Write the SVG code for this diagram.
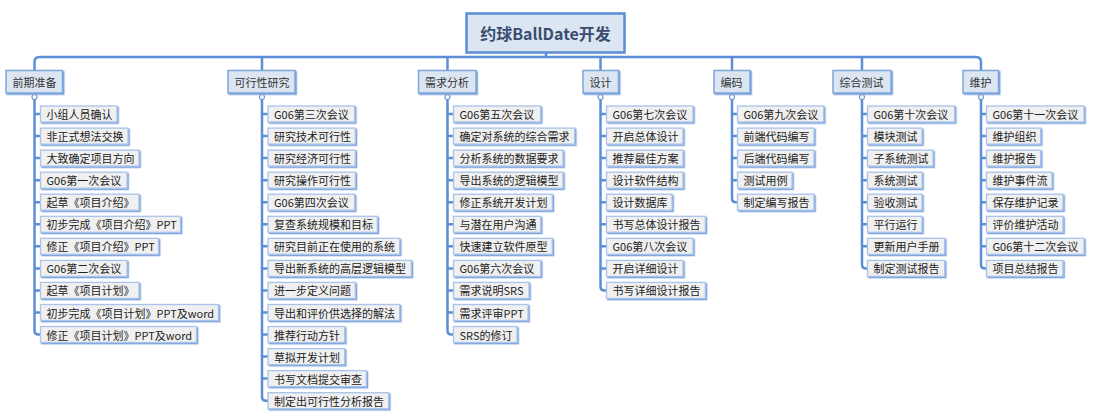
<svg xmlns="http://www.w3.org/2000/svg" width="1100" height="418" viewBox="0 0 1100 418">
<defs>
<filter id="sh" x="-5%" y="-20%" width="115%" height="150%">
<feDropShadow dx="1.3" dy="1.3" stdDeviation="0" flood-color="#7fa5dc" flood-opacity="1"/>
</filter>
<style>
.ln{fill:none;stroke:#5b8ed7;stroke-width:2.5;stroke-linecap:butt}
.dot{fill:#ffffff;stroke:#6f9ad9;stroke-width:1.2}
.c{fill:#f0f0f0;stroke:#a9c4ea;stroke-width:1.3;filter:url(#sh)}
.cat{fill:#dce6f2;stroke:#7ea6dc;stroke-width:1.5;filter:url(#sh)}
.main{fill:#dce6f2;stroke:#5b8dd6;stroke-width:2.5}
.t{font-family:"Noto Sans CJK SC","Noto Sans",sans-serif;font-size:11px;fill:#222;dominant-baseline:central}
.tc{font-family:"Noto Sans CJK SC","Noto Sans",sans-serif;font-size:11px;fill:#333;dominant-baseline:central}
.tm{font-family:"Noto Sans CJK SC","Noto Sans",sans-serif;font-size:16px;font-weight:bold;fill:#3a4d70;dominant-baseline:central;text-anchor:middle}
</style>
</defs>
<rect width="1100" height="418" fill="#ffffff"/>

<g id="connectors">
<path class="ln" d="M546,53 V57"/>
<path class="ln" d="M34.5,70 V62 Q34.5,57 39.5,57 H976 Q981,57 981,62 V70"/>
<path class="ln" d="M262,57 V70 M447.5,57 V70 M600.5,57 V70 M732,57 V70 M862,57 V70"/>
<!-- A -->
<path class="ln" d="M34.5,99.5 V330.5 Q34.5,334.5 38.5,334.5 H40.5"/>
<path class="ln" d="M34.5,114 H40.5 M34.5,136.1 H40.5 M34.5,158.1 H40.5 M34.5,180.2 H40.5 M34.5,202.2 H40.5 M34.5,224.3 H40.5 M34.5,246.3 H40.5 M34.5,268.4 H40.5 M34.5,290.4 H40.5 M34.5,312.5 H40.5"/>
<circle class="dot" cx="34.5" cy="97" r="2.5"/>
<!-- B -->
<path class="ln" d="M262,99.5 V396.7 Q262,400.7 266,400.7 H268"/>
<path class="ln" d="M262,114 H268 M262,136.1 H268 M262,158.1 H268 M262,180.2 H268 M262,202.2 H268 M262,224.3 H268 M262,246.3 H268 M262,268.4 H268 M262,290.4 H268 M262,312.5 H268 M262,334.5 H268 M262,356.6 H268 M262,378.6 H268"/>
<circle class="dot" cx="262" cy="97" r="2.5"/>
<!-- C -->
<path class="ln" d="M447.5,99.5 V330.5 Q447.5,334.5 451.5,334.5 H453.5"/>
<path class="ln" d="M447.5,114 H453.5 M447.5,136.1 H453.5 M447.5,158.1 H453.5 M447.5,180.2 H453.5 M447.5,202.2 H453.5 M447.5,224.3 H453.5 M447.5,246.3 H453.5 M447.5,268.4 H453.5 M447.5,290.4 H453.5 M447.5,312.5 H453.5"/>
<circle class="dot" cx="447.5" cy="97" r="2.5"/>
<!-- D -->
<path class="ln" d="M600.5,99.5 V286.4 Q600.5,290.4 604.5,290.4 H606.5"/>
<path class="ln" d="M600.5,114 H606.5 M600.5,136.1 H606.5 M600.5,158.1 H606.5 M600.5,180.2 H606.5 M600.5,202.2 H606.5 M600.5,224.3 H606.5 M600.5,246.3 H606.5 M600.5,268.4 H606.5"/>
<circle class="dot" cx="600.5" cy="97" r="2.5"/>
<!-- E -->
<path class="ln" d="M732,99.5 V198.2 Q732,202.2 736,202.2 H737.5"/>
<path class="ln" d="M732,114 H737.5 M732,136.1 H737.5 M732,158.1 H737.5 M732,180.2 H737.5"/>
<circle class="dot" cx="732" cy="97" r="2.5"/>
<!-- F -->
<path class="ln" d="M862,99.5 V264.4 Q862,268.4 866,268.4 H867.5"/>
<path class="ln" d="M862,114 H867.5 M862,136.1 H867.5 M862,158.1 H867.5 M862,180.2 H867.5 M862,202.2 H867.5 M862,224.3 H867.5 M862,246.3 H867.5"/>
<circle class="dot" cx="862" cy="97" r="2.5"/>
<!-- G -->
<path class="ln" d="M981,99.5 V264.4 Q981,268.4 985,268.4 H986.5"/>
<path class="ln" d="M981,114 H986.5 M981,136.1 H986.5 M981,158.1 H986.5 M981,180.2 H986.5 M981,202.2 H986.5 M981,224.3 H986.5 M981,246.3 H986.5"/>
<circle class="dot" cx="981" cy="97" r="2.5"/>
</g>

<g id="root"><rect class="main" x="466.5" y="13.5" width="158" height="39"/><text class="tm" x="545.5" y="33">约球BallDate开发</text></g>

<g id="cat-qianqi"><rect class="cat" x="6" y="70.5" width="56.5" height="22.5"/><text class="tc" x="12.5" y="82">前期准备</text></g>
<g id="cat-kexing"><rect class="cat" x="228" y="70.5" width="67" height="22.5"/><text class="tc" x="234.5" y="82">可行性研究</text></g>
<g id="cat-xuqiu"><rect class="cat" x="418.5" y="70.5" width="57.5" height="22.5"/><text class="tc" x="425" y="82">需求分析</text></g>
<g id="cat-sheji"><rect class="cat" x="583" y="70.5" width="35.5" height="22.5"/><text class="tc" x="589.5" y="82">设计</text></g>
<g id="cat-bianma"><rect class="cat" x="714" y="70.5" width="36" height="22.5"/><text class="tc" x="720.5" y="82">编码</text></g>
<g id="cat-ceshi"><rect class="cat" x="833" y="70.5" width="58" height="22.5"/><text class="tc" x="839.5" y="82">综合测试</text></g>
<g id="cat-weihu"><rect class="cat" x="963" y="70.5" width="35.5" height="22.5"/><text class="tc" x="969.5" y="82">维护</text></g>

<!-- A children -->
<g id="a1"><rect class="c" x="40.5" y="106" width="76.5" height="16"/><text class="t" x="46.5" y="114">小组人员确认</text></g>
<g id="a2"><rect class="c" x="40.5" y="128.1" width="87.5" height="16"/><text class="t" x="46.5" y="136.1">非正式想法交换</text></g>
<g id="a3"><rect class="c" x="40.5" y="150.1" width="98.5" height="16"/><text class="t" x="46.5" y="158.1">大致确定项目方向</text></g>
<g id="a4"><rect class="c" x="40.5" y="172.2" width="86.5" height="16"/><text class="t" x="46.5" y="180.2">G06第一次会议</text></g>
<g id="a5"><rect class="c" x="40.5" y="194.2" width="98.5" height="16"/><text class="t" x="46.5" y="202.2">起草《项目介绍》</text></g>
<g id="a6"><rect class="c" x="40.5" y="216.3" width="140" height="16"/><text class="t" x="46.5" y="224.3">初步完成《项目介绍》PPT</text></g>
<g id="a7"><rect class="c" x="40.5" y="238.3" width="118" height="16"/><text class="t" x="46.5" y="246.3">修正《项目介绍》PPT</text></g>
<g id="a8"><rect class="c" x="40.5" y="260.4" width="86.5" height="16"/><text class="t" x="46.5" y="268.4">G06第二次会议</text></g>
<g id="a9"><rect class="c" x="40.5" y="282.4" width="98.5" height="16"/><text class="t" x="46.5" y="290.4">起草《项目计划》</text></g>
<g id="a10"><rect class="c" x="40.5" y="304.5" width="178" height="16"/><text class="t" x="46.5" y="312.5">初步完成《项目计划》PPT及word</text></g>
<g id="a11"><rect class="c" x="40.5" y="326.5" width="156" height="16"/><text class="t" x="46.5" y="334.5">修正《项目计划》PPT及word</text></g>

<!-- B children -->
<g id="b1"><rect class="c" x="268" y="106" width="86.7" height="16"/><text class="t" x="274" y="114">G06第三次会议</text></g>
<g id="b2"><rect class="c" x="268" y="128.1" width="87.3" height="16"/><text class="t" x="274" y="136.1">研究技术可行性</text></g>
<g id="b3"><rect class="c" x="268" y="150.1" width="87.3" height="16"/><text class="t" x="274" y="158.1">研究经济可行性</text></g>
<g id="b4"><rect class="c" x="268" y="172.2" width="87.3" height="16"/><text class="t" x="274" y="180.2">研究操作可行性</text></g>
<g id="b5"><rect class="c" x="268" y="194.2" width="86.7" height="16"/><text class="t" x="274" y="202.2">G06第四次会议</text></g>
<g id="b6"><rect class="c" x="268" y="216.3" width="109.3" height="16"/><text class="t" x="274" y="224.3">复查系统规模和目标</text></g>
<g id="b7"><rect class="c" x="268" y="238.3" width="131.7" height="16"/><text class="t" x="274" y="246.3">研究目前正在使用的系统</text></g>
<g id="b8"><rect class="c" x="268" y="260.4" width="143.3" height="16"/><text class="t" x="274" y="268.4">导出新系统的高层逻辑模型</text></g>
<g id="b9"><rect class="c" x="268" y="282.4" width="87.3" height="16"/><text class="t" x="274" y="290.4">进一步定义问题</text></g>
<g id="b10"><rect class="c" x="268" y="304.5" width="131.7" height="16"/><text class="t" x="274" y="312.5">导出和评价供选择的解法</text></g>
<g id="b11"><rect class="c" x="268" y="326.5" width="76.7" height="16"/><text class="t" x="274" y="334.5">推荐行动方针</text></g>
<g id="b12"><rect class="c" x="268" y="348.6" width="76.7" height="16"/><text class="t" x="274" y="356.6">草拟开发计划</text></g>
<g id="b13"><rect class="c" x="268" y="370.6" width="98.3" height="16"/><text class="t" x="274" y="378.6">书写文档提交审查</text></g>
<g id="b14"><rect class="c" x="268" y="392.7" width="120.7" height="16"/><text class="t" x="274" y="400.7">制定出可行性分析报告</text></g>

<!-- C children -->
<g id="c1"><rect class="c" x="453.5" y="106" width="87.2" height="16"/><text class="t" x="459.5" y="114">G06第五次会议</text></g>
<g id="c2"><rect class="c" x="453.5" y="128.1" width="121.2" height="16"/><text class="t" x="459.5" y="136.1">确定对系统的综合需求</text></g>
<g id="c3"><rect class="c" x="453.5" y="150.1" width="109.5" height="16"/><text class="t" x="459.5" y="158.1">分析系统的数据要求</text></g>
<g id="c4"><rect class="c" x="453.5" y="172.2" width="109.5" height="16"/><text class="t" x="459.5" y="180.2">导出系统的逻辑模型</text></g>
<g id="c5"><rect class="c" x="453.5" y="194.2" width="98.8" height="16"/><text class="t" x="459.5" y="202.2">修正系统开发计划</text></g>
<g id="c6"><rect class="c" x="453.5" y="216.3" width="87.2" height="16"/><text class="t" x="459.5" y="224.3">与潜在用户沟通</text></g>
<g id="c7"><rect class="c" x="453.5" y="238.3" width="98.8" height="16"/><text class="t" x="459.5" y="246.3">快速建立软件原型</text></g>
<g id="c8"><rect class="c" x="453.5" y="260.4" width="87.2" height="16"/><text class="t" x="459.5" y="268.4">G06第六次会议</text></g>
<g id="c9"><rect class="c" x="453.5" y="282.4" width="75.5" height="16"/><text class="t" x="459.5" y="290.4">需求说明SRS</text></g>
<g id="c10"><rect class="c" x="453.5" y="304.5" width="74.5" height="16"/><text class="t" x="459.5" y="312.5">需求评审PPT</text></g>
<g id="c11"><rect class="c" x="453.5" y="326.5" width="63.5" height="16"/><text class="t" x="459.5" y="334.5">SRS的修订</text></g>

<!-- D children -->
<g id="d1"><rect class="c" x="606.5" y="106" width="86.5" height="16"/><text class="t" x="612.5" y="114">G06第七次会议</text></g>
<g id="d2"><rect class="c" x="606.5" y="128.1" width="76.5" height="16"/><text class="t" x="612.5" y="136.1">开启总体设计</text></g>
<g id="d3"><rect class="c" x="606.5" y="150.1" width="76.5" height="16"/><text class="t" x="612.5" y="158.1">推荐最佳方案</text></g>
<g id="d4"><rect class="c" x="606.5" y="172.2" width="76.5" height="16"/><text class="t" x="612.5" y="180.2">设计软件结构</text></g>
<g id="d5"><rect class="c" x="606.5" y="194.2" width="65.5" height="16"/><text class="t" x="612.5" y="202.2">设计数据库</text></g>
<g id="d6"><rect class="c" x="606.5" y="216.3" width="98.8" height="16"/><text class="t" x="612.5" y="224.3">书写总体设计报告</text></g>
<g id="d7"><rect class="c" x="606.5" y="238.3" width="86.5" height="16"/><text class="t" x="612.5" y="246.3">G06第八次会议</text></g>
<g id="d8"><rect class="c" x="606.5" y="260.4" width="76.5" height="16"/><text class="t" x="612.5" y="268.4">开启详细设计</text></g>
<g id="d9"><rect class="c" x="606.5" y="282.4" width="98.8" height="16"/><text class="t" x="612.5" y="290.4">书写详细设计报告</text></g>

<!-- E children -->
<g id="e1"><rect class="c" x="737.5" y="106" width="86.2" height="16"/><text class="t" x="743.5" y="114">G06第九次会议</text></g>
<g id="e2"><rect class="c" x="737.5" y="128.1" width="76.5" height="16"/><text class="t" x="743.5" y="136.1">前端代码编写</text></g>
<g id="e3"><rect class="c" x="737.5" y="150.1" width="76.5" height="16"/><text class="t" x="743.5" y="158.1">后端代码编写</text></g>
<g id="e4"><rect class="c" x="737.5" y="172.2" width="54.5" height="16"/><text class="t" x="743.5" y="180.2">测试用例</text></g>
<g id="e5"><rect class="c" x="737.5" y="194.2" width="76.5" height="16"/><text class="t" x="743.5" y="202.2">制定编写报告</text></g>

<!-- F children -->
<g id="f1"><rect class="c" x="867.5" y="106" width="87.2" height="16"/><text class="t" x="873.5" y="114">G06第十次会议</text></g>
<g id="f2"><rect class="c" x="867.5" y="128.1" width="54.5" height="16"/><text class="t" x="873.5" y="136.1">模块测试</text></g>
<g id="f3"><rect class="c" x="867.5" y="150.1" width="65.5" height="16"/><text class="t" x="873.5" y="158.1">子系统测试</text></g>
<g id="f4"><rect class="c" x="867.5" y="172.2" width="54.5" height="16"/><text class="t" x="873.5" y="180.2">系统测试</text></g>
<g id="f5"><rect class="c" x="867.5" y="194.2" width="54.5" height="16"/><text class="t" x="873.5" y="202.2">验收测试</text></g>
<g id="f6"><rect class="c" x="867.5" y="216.3" width="54.5" height="16"/><text class="t" x="873.5" y="224.3">平行运行</text></g>
<g id="f7"><rect class="c" x="867.5" y="238.3" width="77.2" height="16"/><text class="t" x="873.5" y="246.3">更新用户手册</text></g>
<g id="f8"><rect class="c" x="867.5" y="260.4" width="77.2" height="16"/><text class="t" x="873.5" y="268.4">制定测试报告</text></g>

<!-- G children -->
<g id="g1"><rect class="c" x="986.5" y="106" width="97.5" height="16"/><text class="t" x="992.5" y="114">G06第十一次会议</text></g>
<g id="g2"><rect class="c" x="986.5" y="128.1" width="54.2" height="16"/><text class="t" x="992.5" y="136.1">维护组织</text></g>
<g id="g3"><rect class="c" x="986.5" y="150.1" width="54.2" height="16"/><text class="t" x="992.5" y="158.1">维护报告</text></g>
<g id="g4"><rect class="c" x="986.5" y="172.2" width="65.5" height="16"/><text class="t" x="992.5" y="180.2">维护事件流</text></g>
<g id="g5"><rect class="c" x="986.5" y="194.2" width="76.5" height="16"/><text class="t" x="992.5" y="202.2">保存维护记录</text></g>
<g id="g6"><rect class="c" x="986.5" y="216.3" width="76.5" height="16"/><text class="t" x="992.5" y="224.3">评价维护活动</text></g>
<g id="g7"><rect class="c" x="986.5" y="238.3" width="97.5" height="16"/><text class="t" x="992.5" y="246.3">G06第十二次会议</text></g>
<g id="g8"><rect class="c" x="986.5" y="260.4" width="76.5" height="16"/><text class="t" x="992.5" y="268.4">项目总结报告</text></g>
</svg>
